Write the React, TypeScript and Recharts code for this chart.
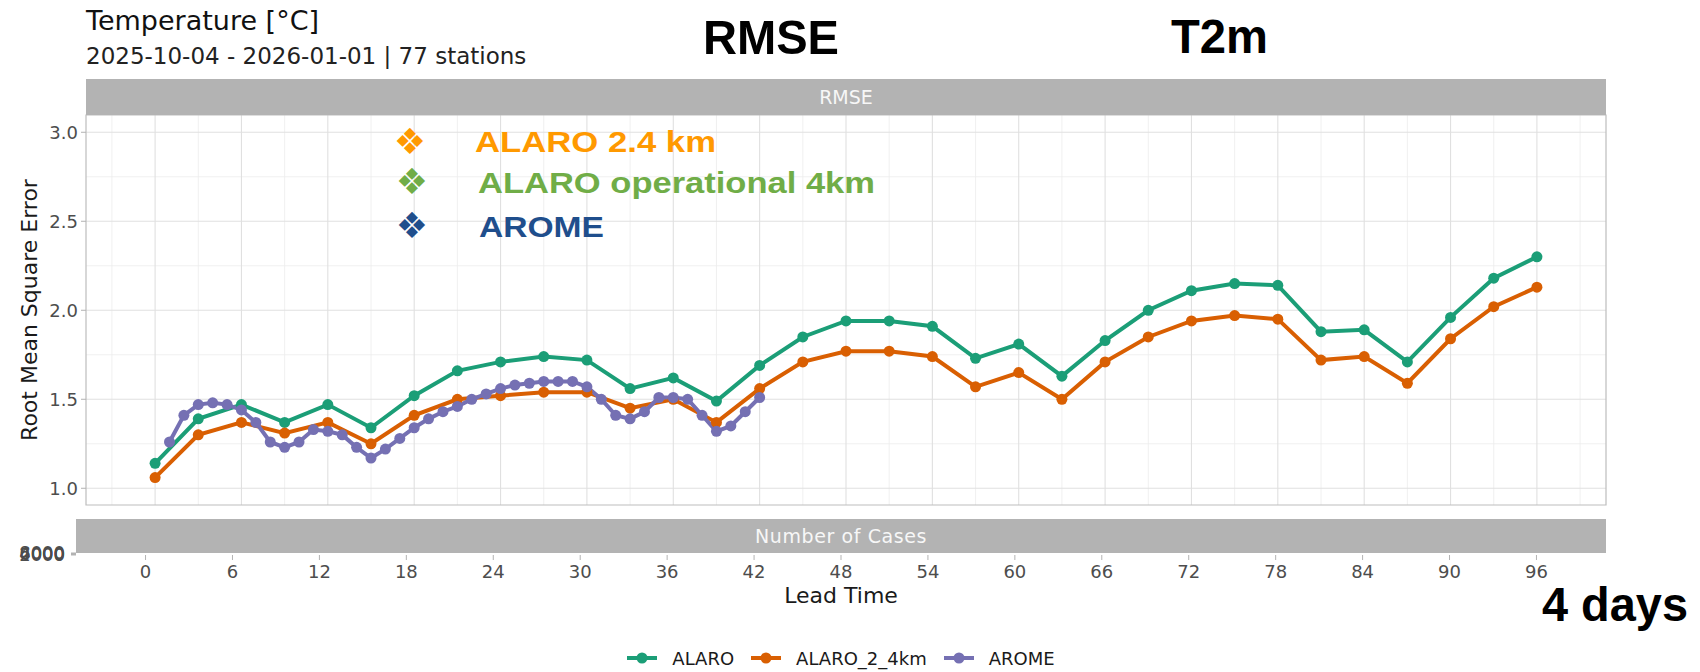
import React from "react";
import {
  LineChart,
  Line,
  XAxis,
  YAxis,
  CartesianGrid,
  ReferenceArea,
  Legend,
} from "recharts";

document.body.style.margin = "0";

// lead times (hours) for the two ALARO runs
const LEAD_TIMES = [
  0, 3, 6, 9, 12, 15, 18, 21, 24, 27, 30, 33, 36, 39, 42, 45, 48, 51, 54, 57, 60,
  63, 66, 69, 72, 75, 78, 81, 84, 87, 90, 93, 96,
];
const ALARO = [
  1.14, 1.39, 1.47, 1.37, 1.47, 1.34, 1.52, 1.66, 1.71, 1.74, 1.72, 1.56, 1.62,
  1.49, 1.69, 1.85, 1.94, 1.94, 1.91, 1.73, 1.81, 1.63, 1.83, 2.0, 2.11, 2.15,
  2.14, 1.88, 1.89, 1.71, 1.96, 2.18, 2.3,
];
const ALARO_2_4KM = [
  1.06, 1.3, 1.37, 1.31, 1.37, 1.25, 1.41, 1.5, 1.52, 1.54, 1.54, 1.45, 1.5,
  1.37, 1.56, 1.71, 1.77, 1.77, 1.74, 1.57, 1.65, 1.5, 1.71, 1.85, 1.94, 1.97,
  1.95, 1.72, 1.74, 1.59, 1.84, 2.02, 2.13,
];
// AROME is hourly, 1..42
const AROME_LEADS = [
  1, 2, 3, 4, 5, 6, 7, 8, 9, 10, 11, 12, 13, 14, 15, 16, 17, 18, 19, 20, 21, 22,
  23, 24, 25, 26, 27, 28, 29, 30, 31, 32, 33, 34, 35, 36, 37, 38, 39, 40, 41, 42,
];
const AROME = [
  1.26, 1.41, 1.47, 1.48, 1.47, 1.44, 1.37, 1.26, 1.23, 1.26, 1.33, 1.32, 1.3,
  1.23, 1.17, 1.22, 1.28, 1.34, 1.39, 1.43, 1.46, 1.5, 1.53, 1.56, 1.58, 1.59,
  1.6, 1.6, 1.6, 1.57, 1.5, 1.41, 1.39, 1.43, 1.51, 1.51, 1.5, 1.41, 1.32, 1.35,
  1.43, 1.51,
];

const X_TICKS = [0, 6, 12, 18, 24, 30, 36, 42, 48, 54, 60, 66, 72, 78, 84, 90, 96];
const X_MINOR = [-3, 3, 9, 15, 21, 27, 33, 39, 45, 51, 57, 63, 69, 75, 81, 87, 93, 99];
const Y_TICKS = [1, 1.5, 2, 2.5, 3];
const Y_MINOR = [1.25, 1.75, 2.25, 2.75];
const CASE_TICKS = [0, 2000, 4000, 6000, 8000];

const X_DOMAIN: [number, number] = [-4.8, 100.8];
const Y_DOMAIN: [number, number] = [0.906, 3.097];

const COLORS = { ALARO: "#1b9e77", ALARO_2_4km: "#d95f02", AROME: "#7570b3" };

const W = 1700;
const H = 672;

const alaroData = LEAD_TIMES.map((lead, i) => ({ lead, value: ALARO[i] }));
const alaro24Data = LEAD_TIMES.map((lead, i) => ({ lead, value: ALARO_2_4KM[i] }));
const aromeData = AROME_LEADS.map((lead, i) => ({ lead, value: AROME[i] }));
const axisData = LEAD_TIMES.map((lead) => ({ lead }));

const tickStyle = { fontSize: 18, fill: "#4d4d4d" };

function renderLegend(props: any) {
  const payload = props.payload || [];
  return (
    <div
      style={{
        display: "flex",
        justifyContent: "center",
        alignItems: "center",
        gap: 17,
        fontSize: 18,
        color: "#1a1a1a",
        height: 26,
      }}
    >
      {payload.map((e: any) => (
        <div key={e.value} style={{ display: "flex", alignItems: "center" }}>
          <svg width={30} height={14}>
            <line x1={0} y1={7} x2={30} y2={7} stroke={e.color} strokeWidth={4} />
            <circle cx={15} cy={7} r={5.5} fill={e.color} />
          </svg>
          <span style={{ marginLeft: 15 }}>{e.value}</span>
        </div>
      ))}
    </div>
  );
}

const stripStyle: React.CSSProperties = {
  position: "absolute",
  background: "#b3b3b3",
  color: "#f7f7f7",
  fontSize: 19,
  display: "flex",
  alignItems: "center",
  justifyContent: "center",
};

export default function App() {
  return (
    <div
      style={{
        position: "relative",
        width: W,
        height: H,
        background: "#fff",
        fontFamily: "DejaVu Sans",
        overflow: "hidden",
      }}
    >
      {/* RMSE panel */}
      <div style={{ position: "absolute", left: 0, top: 0 }}>
        <LineChart width={W} height={H} margin={{ top: 115, right: 94, bottom: 167, left: 0 }}>
          <CartesianGrid stroke="#ececec" strokeWidth={0.8} horizontalValues={Y_MINOR} verticalValues={X_MINOR} />
          <CartesianGrid stroke="#e0e0e0" strokeWidth={1.1} horizontalValues={Y_TICKS} verticalValues={X_TICKS} />
          <XAxis type="number" dataKey="lead" domain={X_DOMAIN} allowDataOverflow hide />
          <YAxis
            type="number"
            domain={Y_DOMAIN}
            allowDataOverflow
            ticks={Y_TICKS}
            interval={0}
            width={86}
            tickSize={5}
            tickMargin={3}
            axisLine={false}
            tickLine={{ stroke: "#b3b3b3" }}
            tick={tickStyle}
            tickFormatter={(v: number) => v.toFixed(1)}
            label={{
              value: "Root Mean Square Error",
              angle: -90,
              position: "insideLeft",
              offset: 29,
              style: { fontSize: 22, fill: "#1a1a1a", textAnchor: "middle" },
            }}
          />
          <ReferenceArea
            x1={X_DOMAIN[0]}
            x2={X_DOMAIN[1]}
            y1={Y_DOMAIN[0]}
            y2={Y_DOMAIN[1]}
            fill="none"
            stroke="#bdbdbd"
            strokeWidth={1.2}
            ifOverflow="visible"
          />
          <Line
            data={alaroData}
            dataKey="value"
            name="ALARO"
            stroke={COLORS.ALARO}
            strokeWidth={4}
            dot={{ r: 5.5, fill: COLORS.ALARO, stroke: COLORS.ALARO, strokeWidth: 0 }}
            isAnimationActive={false}
          />
          <Line
            data={alaro24Data}
            dataKey="value"
            name="ALARO_2_4km"
            stroke={COLORS.ALARO_2_4km}
            strokeWidth={4}
            dot={{ r: 5.5, fill: COLORS.ALARO_2_4km, stroke: COLORS.ALARO_2_4km, strokeWidth: 0 }}
            isAnimationActive={false}
          />
          <Line
            data={aromeData}
            dataKey="value"
            name="AROME"
            stroke={COLORS.AROME}
            strokeWidth={4}
            dot={{ r: 5.5, fill: COLORS.AROME, stroke: COLORS.AROME, strokeWidth: 0 }}
            isAnimationActive={false}
          />
          <Legend
            verticalAlign="middle"
            align="center"
            content={renderLegend}
            wrapperStyle={{ top: 645, left: 76, width: 1530, height: 26 }}
          />
        </LineChart>
      </div>

      {/* Number of Cases panel (collapsed to zero height, so its labels pile up) */}
      <div style={{ position: "absolute", left: 0, top: 0 }}>
        <LineChart width={W} height={H} data={axisData} margin={{ top: 553, right: 94, bottom: 87, left: 0 }}>
          <XAxis
            type="number"
            dataKey="lead"
            domain={X_DOMAIN}
            allowDataOverflow
            ticks={X_TICKS}
            interval={0}
            height={30}
            tickSize={5}
            tickMargin={5}
            axisLine={false}
            tickLine={{ stroke: "#b3b3b3" }}
            tick={tickStyle}
            label={{ value: "Lead Time", position: "bottom", offset: 2, style: { fontSize: 22, fill: "#1a1a1a" } }}
          />
          <YAxis
            type="number"
            domain={[0, 8000]}
            allowDataOverflow
            ticks={CASE_TICKS}
            interval={0}
            width={76}
            tickSize={5}
            tickMargin={6}
            axisLine={false}
            tickLine={{ stroke: "#b3b3b3" }}
            tick={tickStyle}
          />
          <Line dataKey="cases" stroke="none" dot={false} isAnimationActive={false} />
        </LineChart>
      </div>

      <div style={{ ...stripStyle, left: 86, top: 79, width: 1520, height: 36 }}>RMSE</div>
      <div style={{ ...stripStyle, left: 76, top: 519, width: 1530, height: 34, letterSpacing: 0.6 }}>
        Number of Cases
      </div>

      <svg
        width={W}
        height={H}
        style={{ position: "absolute", left: 0, top: 0, pointerEvents: "none" }}
      >
        <text x={86} y={30} fontSize={27} fill="#111" fontFamily="DejaVu Sans">
          Temperature [°C]
        </text>
        <text x={86} y={64} fontSize={23} fill="#222" fontFamily="DejaVu Sans">
          2025-10-04 - 2026-01-01 | 77 stations
        </text>

        <g fontFamily="Liberation Sans" fontWeight="bold" fill="#000">
          <text x={703} y={54} fontSize={49} textLength={136} lengthAdjust="spacingAndGlyphs">RMSE</text>
          <text x={1171} y={53} fontSize={48} textLength={97} lengthAdjust="spacingAndGlyphs">T2m</text>
          <text x={1542} y={621} fontSize={48} textLength={146} lengthAdjust="spacingAndGlyphs">4 days</text>
        </g>

        <g fontFamily="DejaVu Sans" fontSize={36} textAnchor="middle" dominantBaseline="central">
          <text x={410} y={141} fill="#ff9900">❖</text>
          <text x={412} y={181} fill="#70ad47">❖</text>
          <text x={412} y={225} fill="#1f4e8c">❖</text>
        </g>
        <g fontFamily="Liberation Sans" fontWeight="bold" fontSize={29}>
          <text x={475} y={151.5} fill="#ff9900" textLength={241} lengthAdjust="spacingAndGlyphs">ALARO 2.4 km</text>
          <text x={478} y={193} fill="#70ad47" textLength={397} lengthAdjust="spacingAndGlyphs">ALARO operational 4km</text>
          <text x={479} y={236.5} fill="#1f4e8c" textLength={125} lengthAdjust="spacingAndGlyphs">AROME</text>
        </g>
      </svg>
    </div>
  );
}
